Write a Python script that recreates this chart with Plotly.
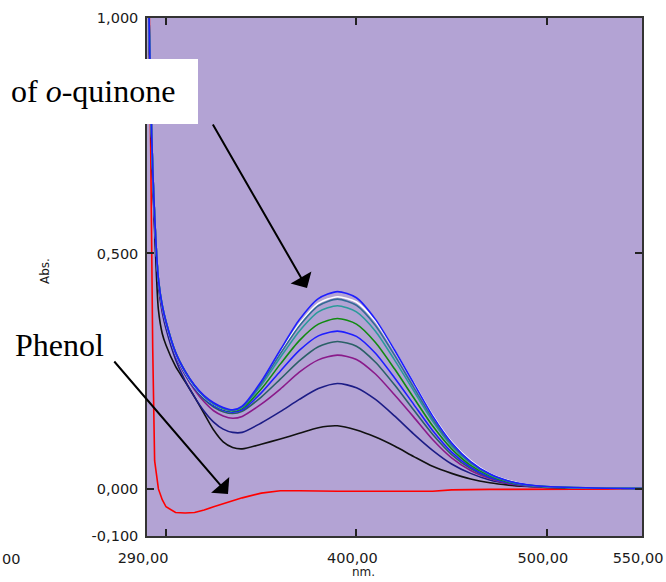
import plotly.graph_objects as go

# Wavelengths (nm)
wl = [290, 291, 292, 293, 294, 295, 296, 298, 300, 305, 310, 315, 320, 325, 330, 335,
      340, 350, 360, 370, 380, 390, 400, 410, 420, 430, 440, 450, 460, 470, 480, 490,
      500, 525, 550]

# Absorbance spectra (o-quinone formation, successive scans)
abs_blue_top = [1.30, 1.02, 0.82, 0.68, 0.58, 0.50, 0.445, 0.39, 0.355, 0.29, 0.25, 0.22, 0.198, 0.183, 0.173, 0.168,
                0.176, 0.228, 0.295, 0.359, 0.404, 0.419, 0.406, 0.36, 0.295, 0.225, 0.155, 0.098, 0.058, 0.032, 0.017, 0.009,
                0.005, 0.002, 0.001]
abs_slate = [1.30, 1.02, 0.82, 0.68, 0.58, 0.50, 0.445, 0.388, 0.353, 0.288, 0.248, 0.218, 0.196, 0.181, 0.171, 0.167,
             0.174, 0.224, 0.287, 0.346, 0.389, 0.403, 0.39, 0.347, 0.284, 0.216, 0.149, 0.094, 0.056, 0.031, 0.016, 0.008,
             0.005, 0.002, 0.001]
abs_white = [1.30, 1.02, 0.82, 0.68, 0.58, 0.50, 0.445, 0.388, 0.352, 0.287, 0.247, 0.217, 0.195, 0.18, 0.17, 0.167,
             0.174, 0.225, 0.289, 0.35, 0.394, 0.408, 0.397, 0.356, 0.294, 0.226, 0.157, 0.1, 0.06, 0.033, 0.018, 0.009,
             0.005, 0.002, 0.001]
abs_teal = [1.30, 1.02, 0.82, 0.68, 0.58, 0.50, 0.445, 0.39, 0.355, 0.29, 0.249, 0.219, 0.196, 0.18, 0.17, 0.166,
            0.173, 0.22, 0.279, 0.335, 0.376, 0.389, 0.376, 0.335, 0.274, 0.209, 0.144, 0.091, 0.054, 0.03, 0.016, 0.008,
            0.005, 0.002, 0.001]
abs_green = [1.30, 1.02, 0.82, 0.68, 0.58, 0.50, 0.445, 0.39, 0.355, 0.29, 0.25, 0.219, 0.196, 0.18, 0.169, 0.165,
             0.171, 0.212, 0.265, 0.315, 0.35, 0.362, 0.35, 0.311, 0.255, 0.194, 0.134, 0.085, 0.05, 0.028, 0.014, 0.008,
             0.004, 0.002, 0.001]
abs_blue = [1.30, 1.02, 0.82, 0.68, 0.58, 0.50, 0.445, 0.385, 0.35, 0.285, 0.245, 0.215, 0.193, 0.177, 0.167, 0.163,
            0.168, 0.204, 0.25, 0.294, 0.325, 0.335, 0.324, 0.288, 0.236, 0.18, 0.124, 0.078, 0.046, 0.025, 0.013, 0.007,
            0.004, 0.002, 0.001]
abs_darkteal = [1.30, 1.02, 0.82, 0.68, 0.58, 0.50, 0.445, 0.385, 0.35, 0.285, 0.244, 0.213, 0.19, 0.174, 0.164, 0.16,
                0.165, 0.195, 0.233, 0.272, 0.302, 0.313, 0.303, 0.269, 0.221, 0.168, 0.116, 0.073, 0.043, 0.024, 0.013, 0.007,
                0.004, 0.002, 0.001]
abs_purple = [1.30, 1.02, 0.82, 0.68, 0.58, 0.50, 0.44, 0.38, 0.348, 0.283, 0.242, 0.21, 0.185, 0.166, 0.155, 0.15,
              0.154, 0.18, 0.212, 0.248, 0.274, 0.284, 0.275, 0.244, 0.2, 0.153, 0.105, 0.066, 0.039, 0.022, 0.011, 0.006,
              0.003, 0.002, 0.001]
abs_navy = [1.30, 1.00, 0.80, 0.66, 0.56, 0.48, 0.43, 0.375, 0.34, 0.275, 0.23, 0.195, 0.165, 0.142, 0.127, 0.12,
            0.12, 0.14, 0.164, 0.19, 0.213, 0.224, 0.215, 0.19, 0.155, 0.117, 0.082, 0.053, 0.033, 0.019, 0.011, 0.006,
            0.004, 0.002, 0.001]
abs_black = [1.25, 0.98, 0.80, 0.66, 0.55, 0.45, 0.38, 0.33, 0.305, 0.26, 0.228, 0.195, 0.16, 0.125, 0.1, 0.088,
             0.085, 0.095, 0.106, 0.118, 0.13, 0.134, 0.125, 0.11, 0.091, 0.069, 0.048, 0.033, 0.021, 0.013, 0.008, 0.005,
             0.003, 0.002, 0.001]
abs_phenol = [1.5, 1.05, 0.6, 0.3, 0.06, 0.025, 0.0, -0.023, -0.038, -0.05, -0.051, -0.05, -0.045, -0.038, -0.032, -0.025,
              -0.019, -0.009, -0.004, -0.004, -0.005, -0.005, -0.005, -0.005, -0.005, -0.005, -0.005, -0.002, -0.001, -0.001, -0.001, -0.001,
              -0.001, -0.001, 0.0]

series = [
    ("Phenol", abs_phenol, "#ff0000", "linear"),
    ("Scan 1", abs_black, "#111111", "spline"),
    ("Scan 2", abs_navy, "#1c1c86", "spline"),
    ("Scan 3", abs_purple, "#8a1a8a", "spline"),
    ("Scan 4", abs_darkteal, "#2a6066", "spline"),
    ("Scan 5", abs_blue, "#1e1eff", "spline"),
    ("Scan 6", abs_green, "#118a11", "spline"),
    ("Scan 7", abs_white, "#ffffff", "spline"),
    ("Scan 8", abs_teal, "#2a9a9a", "spline"),
    ("Scan 9", abs_slate, "#336b94", "spline"),
    ("Scan 10", abs_blue_top, "#1e1eff", "spline"),
]

x_ticks = [290, 300, 400, 500, 550]
x_ticktext = ["290,00", "", "400,00", "500,00", "550,00"]
y_ticks = [-0.1, 0.0, 0.5, 1.0]
y_ticktext = ["-0,100", "0,000", "0,500", "1,000"]

fig = go.Figure()
for name, ys, col, shp in series:
    fig.add_trace(go.Scatter(x=wl, y=ys, mode="lines", name=name,
                             line=dict(color=col, width=1.6, shape=shp, smoothing=0.7 if shp == "spline" else None)))

L, R, T, B = 147, 24, 18, 46
W, H = 666, 582
pw, ph = W - L - R, H - T - B

def px(x):
    return (x - L) / pw

def py(y):
    return (H - B - y) / ph

tickfont = dict(family="DejaVu Sans", size=14.5, color="#1a1a1a")
fig.update_layout(
    width=W, height=H, margin=dict(l=L, r=R, t=T, b=B, pad=0, autoexpand=False),
    paper_bgcolor="white", plot_bgcolor="#b3a3d4", showlegend=False,
    xaxis=dict(range=[290, 550], tickvals=x_ticks, ticktext=x_ticktext, ticks="inside", ticklen=7,
               tickcolor="#222", tickwidth=1.5, showgrid=False, zeroline=False, showline=True,
               linecolor="#333", linewidth=1.5, mirror="ticks", tickfont=tickfont, ticklabelstandoff=8,
               ticklabeloverflow="allow", ticklabelshift=-4, automargin=False),
    yaxis=dict(range=[-0.1, 1.0], tickvals=y_ticks, ticktext=y_ticktext, ticks="inside", ticklen=7,
               tickcolor="#222", tickwidth=1.5, showgrid=False, zeroline=False, showline=True,
               linecolor="#333", linewidth=1.5, mirror="ticks", tickfont=tickfont, ticklabelstandoff=4,
               ticklabeloverflow="allow", automargin=False),
)

# white label box covering the plot edge
fig.add_shape(type="rect", xref="paper", yref="paper", x0=px(-2), x1=px(198), y0=py(124), y1=py(59),
              fillcolor="white", line=dict(width=0), layer="above")

serif = dict(family="Liberation Serif", size=32, color="black")
fig.add_annotation(xref="paper", yref="paper", x=px(9), y=py(91), xanchor="left", yanchor="middle",
                   text="of <i>o</i>-quinone", showarrow=False, font=serif)
fig.add_annotation(xref="paper", yref="paper", x=px(13), y=py(345), xanchor="left", yanchor="middle",
                   text="Phenol", showarrow=False, font=serif)

# arrows
fig.add_annotation(xref="paper", yref="paper", x=px(307), y=py(288), ax=212 - 307, ay=123 - 288,
                   text="", showarrow=True, arrowhead=1, arrowsize=2.0, arrowwidth=2, arrowcolor="black")
fig.add_annotation(xref="paper", yref="paper", x=px(228), y=py(494), ax=113 - 228, ay=360 - 494,
                   text="", showarrow=True, arrowhead=1, arrowsize=2.0, arrowwidth=2, arrowcolor="black")

# axis titles
fig.add_annotation(xref="paper", yref="paper", x=px(45), y=py(271), xanchor="center", yanchor="middle",
                   text="Abs.", textangle=-90, showarrow=False,
                   font=dict(family="DejaVu Sans", size=12, color="#1a1a1a"))
fig.add_annotation(xref="paper", yref="paper", x=px(363), y=py(581), xanchor="center", yanchor="bottom",
                   text="nm.", showarrow=False, font=dict(family="DejaVu Sans", size=12, color="#1a1a1a"))
fig.add_annotation(xref="paper", yref="paper", x=px(22), y=py(559), xanchor="right", yanchor="middle",
                   text="00", showarrow=False, font=tickfont)

fig.write_html("out.html")
